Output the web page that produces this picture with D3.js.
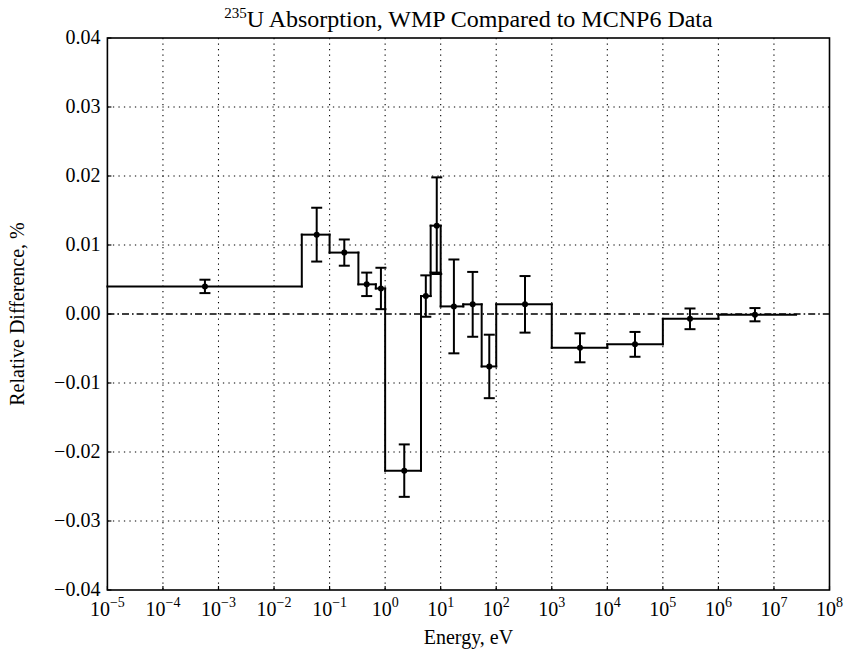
<!DOCTYPE html>
<html>
<head>
<meta charset="utf-8">
<script src="https://cdn.jsdelivr.net/npm/d3@7"></script>
<style>
  html, body { margin: 0; padding: 0; background: #fff; }
  svg { display: block; }
  text { font-family: "Liberation Serif", "DejaVu Serif", serif; fill: #000; }
</style>
</head>
<body>
<svg id="chart" width="849" height="651"></svg>
<script>
// Energy-group histogram of the relative difference (step outline)
const binLow  = [1e-5, 0.0316, 0.1, 0.33, 0.68, 1, 4.42, 6.6, 6.6, 10, 25.5, 54.7, 100, 1e3, 1e4, 1e5, 1e6];
const binHigh = [0.0316, 0.1, 0.33, 0.68, 1, 4.42, 6.6, 10, 10, 25.5, 54.7, 100, 1e3, 1e4, 1e5, 1e6, 2.5e7];
const binValue = [0.0040, 0.0115, 0.0089, 0.0043, 0.0037, -0.0227, 0.0026, 0.0060, 0.0128,
                  0.0011, 0.0014, -0.0076, 0.0014, -0.0049, -0.0044, -0.0007, -0.0001];

// Group markers with one-sigma uncertainty
const pointEnergy = [5.7e-4, 0.0586, 0.184, 0.466, 0.84, 2.21, 5.4, 8.5, 17.3, 37.7, 75,
                     330, 3220, 31500, 3.08e5, 4.55e6];
const pointValue = [0.0040, 0.0115, 0.0089, 0.0043, 0.0037, -0.0227, 0.0026, 0.0128,
                    0.0011, 0.0014, -0.0076, 0.0014, -0.0049, -0.0044, -0.0007, -0.0001];
const pointError = [0.00097, 0.0039, 0.0019, 0.0017, 0.0030, 0.0038, 0.0030, 0.0070,
                    0.0068, 0.0047, 0.0046, 0.0041, 0.0021, 0.0018, 0.0015, 0.00096];

// Axis ticks
const xTickExponents = [-5, -4, -3, -2, -1, 0, 1, 2, 3, 4, 5, 6, 7, 8];
const yTicks = [-0.04, -0.03, -0.02, -0.01, 0.00, 0.01, 0.02, 0.03, 0.04];

const svg = d3.select("#chart");
const plotL = 107.4, plotR = 829.5, plotT = 38, plotB = 590;

const x = d3.scaleLog().domain([1e-5, 1e8]).range([plotL, plotR]);
const y = d3.scaleLinear().domain([-0.04, 0.04]).range([plotB, plotT]);

// Dotted grid
const grid = svg.append("g").attr("stroke", "#000").attr("stroke-width", 1.1)
  .attr("stroke-dasharray", "1.3,4.2").attr("fill", "none");
grid.selectAll("line.v").data(xTickExponents.slice(1, -1)).join("line")
  .attr("x1", d => x(Math.pow(10, d))).attr("x2", d => x(Math.pow(10, d)))
  .attr("y1", plotT).attr("y2", plotB);
grid.selectAll("line.h").data(yTicks.filter(d => d !== 0 && Math.abs(d) < 0.04)).join("line")
  .attr("x1", plotL).attr("x2", plotR)
  .attr("y1", d => y(d)).attr("y2", d => y(d));

// Zero reference (dash-dot)
svg.append("line")
  .attr("x1", plotL).attr("x2", plotR).attr("y1", y(0)).attr("y2", y(0))
  .attr("stroke", "#000").attr("stroke-width", 1.6)
  .attr("stroke-dasharray", "7,3,1.6,3");

// Frame
svg.append("rect")
  .attr("x", plotL).attr("y", plotT).attr("width", plotR - plotL).attr("height", plotB - plotT)
  .attr("fill", "none").attr("stroke", "#000").attr("stroke-width", 1.6);

// Inward major ticks
const ticks = svg.append("g").attr("stroke", "#000").attr("stroke-width", 1.2);
ticks.selectAll("line.xt").data(xTickExponents).join("line")
  .attr("x1", d => x(Math.pow(10, d))).attr("x2", d => x(Math.pow(10, d)))
  .attr("y1", plotB).attr("y2", plotB - 4);
ticks.selectAll("line.yt").data(yTicks).join("line")
  .attr("x1", plotL).attr("x2", plotL + 4)
  .attr("y1", d => y(d)).attr("y2", d => y(d));

// Step outline: horizontal run for each group, vertical riser at each boundary
const bins = binValue.map((v, i) => ({ lo: binLow[i], hi: binHigh[i], v }));
const hist = svg.append("g").attr("stroke", "#000").attr("stroke-width", 2).attr("fill", "none")
  .attr("stroke-linecap", "square");
hist.selectAll("line.run").data(bins).join("line")
  .attr("x1", d => x(d.lo)).attr("x2", d => x(d.hi))
  .attr("y1", d => y(d.v)).attr("y2", d => y(d.v));
hist.selectAll("line.rise").data(bins.slice(1).map((d, i) => ({ e: d.lo, a: bins[i].v, b: d.v }))).join("line")
  .attr("x1", d => x(d.e)).attr("x2", d => x(d.e))
  .attr("y1", d => y(d.a)).attr("y2", d => y(d.b));

// Error bars and markers
const pts = pointValue.map((v, i) => ({ e: pointEnergy[i], v, s: pointError[i] }));
const eb = svg.append("g").attr("stroke", "#000").attr("stroke-width", 2);
eb.selectAll("line.bar").data(pts).join("line")
  .attr("x1", d => x(d.e)).attr("x2", d => x(d.e))
  .attr("y1", d => y(d.v - d.s)).attr("y2", d => y(d.v + d.s));
eb.selectAll("line.capTop").data(pts).join("line")
  .attr("x1", d => x(d.e) - 5.5).attr("x2", d => x(d.e) + 5.5)
  .attr("y1", d => y(d.v + d.s)).attr("y2", d => y(d.v + d.s));
eb.selectAll("line.capBot").data(pts).join("line")
  .attr("x1", d => x(d.e) - 5.5).attr("x2", d => x(d.e) + 5.5)
  .attr("y1", d => y(d.v - d.s)).attr("y2", d => y(d.v - d.s));
svg.append("g").selectAll("circle").data(pts).join("circle")
  .attr("cx", d => x(d.e)).attr("cy", d => y(d.v)).attr("r", 3).attr("fill", "#000");

// Y tick labels
svg.append("g").selectAll("text").data(yTicks).join("text")
  .attr("x", plotL - 7).attr("y", d => y(d)).attr("dy", "0.3em")
  .attr("text-anchor", "end").attr("font-size", 20)
  .text(d => (d < 0 ? "\u2212" : "") + Math.abs(d).toFixed(2));

// X tick labels as powers of ten
const xl = svg.append("g").selectAll("text").data(xTickExponents).join("text")
  .attr("x", d => x(Math.pow(10, d))).attr("y", plotB + 26)
  .attr("text-anchor", "middle").attr("font-size", 20);
xl.append("tspan").text("10");
xl.append("tspan").attr("dy", -9).attr("font-size", 14)
  .text(d => (d < 0 ? "\u2212" : "") + Math.abs(d));

// Axis titles
svg.append("text").attr("x", (plotL + plotR) / 2).attr("y", 644)
  .attr("text-anchor", "middle").attr("font-size", 20).text("Energy, eV");
svg.append("text")
  .attr("transform", `translate(24,${(plotT + plotB) / 2}) rotate(-90)`)
  .attr("text-anchor", "middle").attr("font-size", 20).text("Relative Difference, %");

// Chart title
const title = svg.append("text").attr("x", (plotL + plotR) / 2).attr("y", 27)
  .attr("text-anchor", "middle").attr("font-size", 24);
title.append("tspan").attr("font-size", 15).attr("dy", -9).text("235");
title.append("tspan").attr("dy", 9).text("U Absorption, WMP Compared to MCNP6 Data");
</script>
</body>
</html>
